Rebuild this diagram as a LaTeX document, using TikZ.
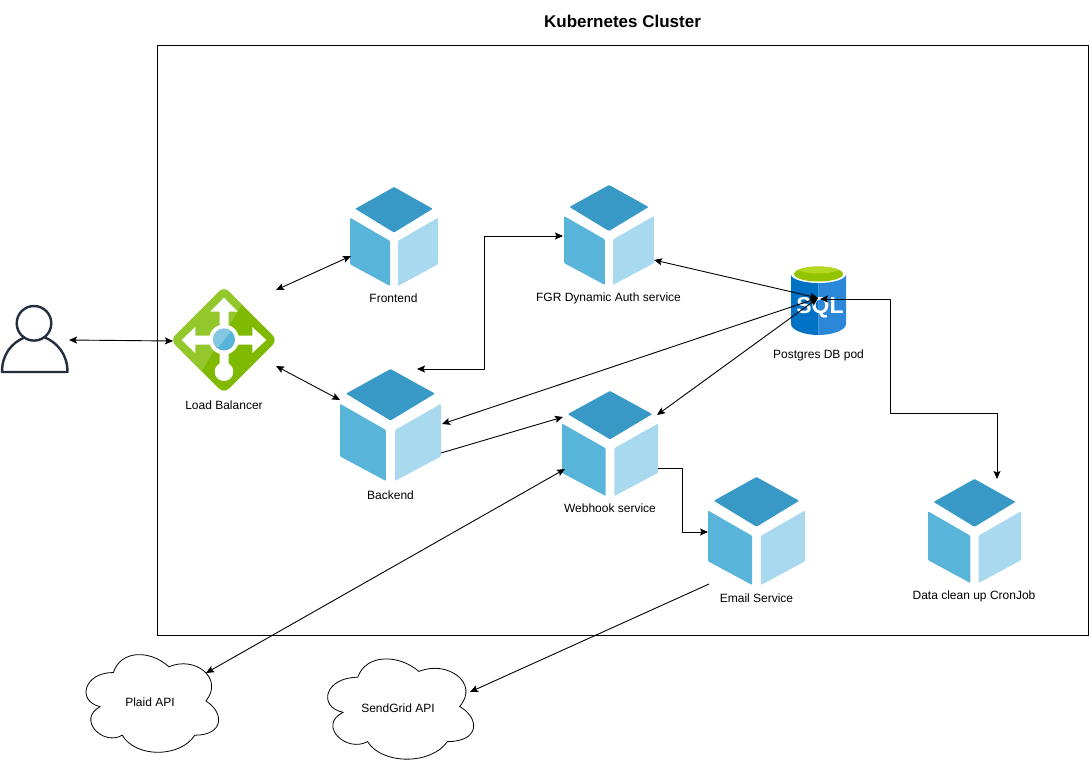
\documentclass[tikz,border=0pt]{standalone}
\usepackage{fontspec}
\setmainfont{Liberation Sans}
\usetikzlibrary{arrows.meta}
\definecolor{cubetop}{HTML}{3999C6}
\definecolor{cubeleft}{HTML}{59B4D9}
\definecolor{cuberight}{HTML}{A9D9EE}
\definecolor{lbdark}{HTML}{7FBA00}
\definecolor{lblight}{HTML}{94C72C}
\definecolor{userink}{HTML}{232F3E}
\definecolor{dbdark}{HTML}{0072C6}
\definecolor{dbmid}{HTML}{2B88D8}
\tikzset{
  x=1pt,y=-1pt,
  conn/.style={draw=black,line width=0.9pt,line join=round},
  twoway/.style={conn,{Stealth[length=8pt,width=7pt,inset=1.5pt]}-{Stealth[length=8pt,width=7pt,inset=1.5pt]}},
  oneway/.style={conn,-{Stealth[length=8pt,width=7pt,inset=1.5pt]}},
  lbl/.style={font=\fontsize{12}{14}\selectfont,inner sep=0pt,anchor=center},
  iconbox/.style={draw=none,inner sep=0pt,outer sep=0pt,rectangle},
  facet/.style={rounded corners=1pt,draw=none},
}
% name, left, top, right, bottom
\newcommand{\azcube}[5]{%
  \node[iconbox,minimum width={#4-#2},minimum height={#5-#3}] (#1) at ({(#2+#4)/2},{(#3+#5)/2}) {};
  \begin{scope}[shift={(#2,#3)},x={({#4-#2},0)},y={(0,{#5-#3})}]
    \fill[facet,cubetop] (0.06,0.22)--(0.5,0)--(0.94,0.22)--(0.5,0.46)--cycle;
    \fill[facet,cubeleft] (0,0.31)--(0.455,0.545)--(0.455,1)--(0,0.78)--cycle;
    \fill[facet,cuberight] (0.545,0.545)--(1,0.31)--(1,0.78)--(0.545,1)--cycle;
  \end{scope}}
% left, top, width, height
\newcommand{\cloudpath}[4]{%
  \begin{scope}[shift={(#1,#2)},x={(#3,0)},y={(0,#4)}]
    \draw[line width=0.8pt,fill=white] (0.25,0.25)
      .. controls (0.05,0.25) and (0,0.5) .. (0.16,0.55)
      .. controls (0,0.66) and (0.18,0.9) .. (0.31,0.8)
      .. controls (0.4,1) and (0.7,1) .. (0.8,0.8)
      .. controls (1,0.8) and (1,0.6) .. (0.875,0.5)
      .. controls (1,0.3) and (0.8,0.1) .. (0.625,0.2)
      .. controls (0.5,0.05) and (0.3,0.05) .. (0.25,0.25) -- cycle;
  \end{scope}}
\begin{document}
\begin{tikzpicture}
\useasboundingbox (0,0) rectangle (1089,766);
\fill[white] (0,0) rectangle (1089,766);
% cluster
\node[draw=black,line width=0.9pt,inner sep=0pt,minimum width=930.5pt,minimum height=590pt] (cluster) at (622.75,340) {};
\node[font=\fontsize{17}{20}\selectfont\bfseries,inner sep=0pt] (title) at (622.5,21) {Kubernetes Cluster};

% user
\node[iconbox,minimum width=69pt,minimum height=67pt] (user) at (34,340) {};
\begin{scope}[userink,line width=2.4pt]
  \draw (34,323.3) circle (17.3);
  \draw[line cap=round,line join=round] (24.5,337.5) .. controls (11,343) and (2,355) .. (2,372) -- (67.5,372) .. controls (67.5,355) and (58,343) .. (45,337.5);
\end{scope}

% load balancer
\node[iconbox,minimum width=102pt,minimum height=102pt] (lb) at (224,340) {};
\begin{scope}
  \clip[rounded corners=7pt] (224,286.5)--(277.5,340)--(224,393.5)--(170.5,340)--cycle;
  \fill[lbdark] (170,286) rectangle (278,394);
  \fill[lblight] (170,286)--(253,286)--(188,394)--(170,394)--cycle;
\end{scope}
\fill[white] (224,297.7)--(237.7,311.7)--(228.5,311.7)--(228.5,335.5)--(252.3,335.5)--(252.3,327)--(266.3,340)--(252.3,353)--(252.3,344.5)--(228.5,344.5)--(228.5,365)--(219.5,365)--(219.5,344.5)--(195.3,344.5)--(195.3,353)--(181.7,340)--(195.3,327)--(195.3,335.5)--(219.5,335.5)--(219.5,311.7)--(210.3,311.7)--cycle;
\fill[white] (224,371.7) circle (9.3);
\fill[white] (224,339.5) circle (15);
\fill[cubeleft] (224,339.5) circle (11);
\begin{scope}
  \clip (224,339.5) circle (11);
  \fill[cubeleft!75!white] (205,320)--(240,320)--(212,355)--(205,355)--cycle;
\end{scope}

% services
\azcube{frontend}{350}{187}{438}{286}
\azcube{fgr}{564}{185}{654}{285}
\azcube{backend}{340}{369}{441}{481}
\azcube{webhook}{562}{391}{658}{496}
\azcube{email}{708}{477}{805}{585}
\azcube{data}{928}{479}{1021}{583}

% database
\node[iconbox,minimum width=55pt,minimum height=70pt] (db) at (818.5,300) {};
\fill[dbdark] (791,274) -- (791,324) .. controls (791,330) and (804,335) .. (818.5,335) -- (818.5,274) -- cycle;
\fill[dbmid] (846,274) -- (846,324) .. controls (846,330) and (833,335) .. (818.5,335) -- (818.5,274) -- cycle;
\fill[white] (818.5,274) ellipse[x radius=27.5,y radius=9];
\fill[lbdark!85!yellow] (818.5,274) ellipse[x radius=24.5,y radius=7.5];
\begin{scope}
  \clip (818.5,274) ellipse[x radius=24.5,y radius=7.5];
  \fill[lblight!70!yellow] (818.5,263.5) ellipse[x radius=27,y radius=10];
\end{scope}
\node[font=\fontsize{23}{26}\selectfont\bfseries,text=white,inner sep=0pt] (sql) at (820,307.5) {SQL};

% clouds
\cloudpath{76.4}{644}{148}{114}
\node[lbl] (plaid) at (150,702) {Plaid API};
\cloudpath{317}{648}{163}{117}
\node[lbl] (sendgrid) at (398,708) {SendGrid API};

% labels
\node[lbl] (lblfront) at (393.5,298) {Frontend};
\node[lbl] (lblfgr) at (608.5,298.5) {FGR Dynamic Auth service};
\node[lbl] (lbllb) at (224,405) {Load Balancer};
\node[lbl] (lbldb) at (818.5,355.5) {Postgres DB pod};
\node[lbl] (lblback) at (390.5,495) {Backend};
\node[lbl] (lblhook) at (610,508) {Webhook service};
\node[lbl] (lblemail) at (756.5,598) {Email Service};
\node[lbl] (lbldata) at (974,596.5) {Data clean up CronJob};

% connectors
\draw[twoway] ([shift={(35,0)}]user.center) -- ([shift={(-51,1)}]lb.center);
\draw[twoway] ([shift={(52,-50)}]lb.center) -- ([shift={(-43,19.5)}]frontend.center);
\draw[twoway] ([shift={(52,26)}]lb.center) -- ([shift={(-50.5,-25)}]backend.center);
\draw[twoway] ([shift={(26.5,-56)}]backend.center) -- (484,369) -- (484,236) -- ([shift={(-46,1)}]fgr.center);
\draw[twoway] ([shift={(-0.5,-2)}]db.center) -- ([shift={(45,25)}]fgr.center);
\draw[twoway] ([shift={(-0.5,-2)}]db.center) -- ([shift={(51.5,-1)}]backend.center);
\draw[twoway] ([shift={(-0.5,-2)}]db.center) -- ([shift={(47,-28.5)}]webhook.center);
\draw[oneway] ([shift={(50.5,28)}]backend.center) -- ([shift={(-47,-26.5)}]webhook.center);
\draw[oneway] ([shift={(48,24.5)}]webhook.center) -- (682,468) -- (682,532) -- ([shift={(-48.5,1)}]email.center);
\draw[twoway] ([shift={(-45,25.5)}]webhook.center) -- ([shift={(56,-29)}]plaid.center);
\draw[oneway] ([shift={(-47.5,53)}]email.center) -- ([shift={(72,-16)}]sendgrid.center);
\draw[twoway] ([shift={(1.5,-1)}]db.center) -- (890,299) -- (890,413) -- (997,413) -- ([shift={(22.5,-52)}]data.center);
\end{tikzpicture}
\end{document}
